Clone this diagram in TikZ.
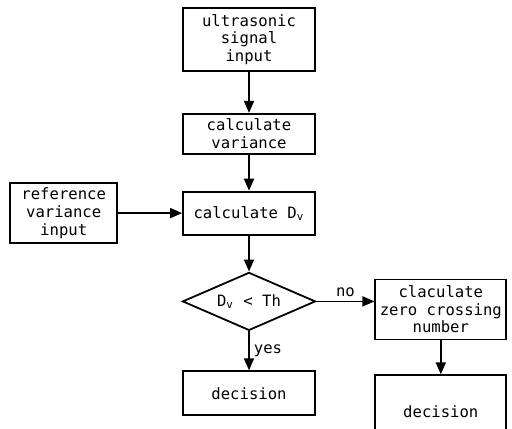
\documentclass[tikz,border=0pt]{standalone}
\usepackage{fontspec}
\newfontfamily\plotfont{DejaVu Sans Mono}
\usepackage{tikz}
\usetikzlibrary{shapes.geometric, arrows.meta, positioning}

\begin{document}
\begin{tikzpicture}[
        x=0.5pt, y=-0.5pt,
        box/.style={rectangle, draw=black, line width=0.9pt, minimum width=66pt, align=center, fill=white, inner sep=2pt, font=\plotfont\fontsize{7.8}{8.8}\selectfont},
        test/.style={diamond, draw=black, line width=0.9pt, aspect=2.3, minimum width=66.5pt, minimum height=29pt, inner sep=0pt, align=center, font=\plotfont\fontsize{7.8}{8.8}\selectfont},
        arrow/.style={-{Triangle[length=6pt,width=5pt]}, line width=0.9pt},
        lbl/.style={font=\plotfont\fontsize{7.8}{8.8}\selectfont, inner sep=2pt}
    ]
    \useasboundingbox (0,0) rectangle (512,428);

    % Nodes
    \node[box, minimum height=31.5pt] (signal) at (249,39.5) {ultrasonic\\signal\\input};

    \node[box, minimum height=20pt, below=20.5pt of signal] (variance) {calculate\\variance};

    \node[box, minimum height=21.5pt, below=18pt of variance] (dv) {calculate D\textsubscript{v}};

    \node[box, minimum width=53.5pt, minimum height=30pt, left=32pt of dv] (refvar) {reference\\variance\\input};

    \node[test, below=18pt of dv] (thresh) {D\textsubscript{v} < Th};

    \node[box, minimum height=22pt, below=19.5pt of thresh] (decyes) {decision};

    \node[box, minimum width=65.5pt, minimum height=30pt, right=29pt of thresh, yshift=-4pt] (zerox) {claculate\\zero crossing\\number};

    \node[box, minimum width=65.5pt, minimum height=36pt, below=17pt of zerox] (decno) {decision};

    % Arrows
    \draw[arrow] (signal) -- (variance);
    \draw[arrow] (variance) -- (dv);
    \draw[arrow] (refvar) -- (dv);
    \draw[arrow] (dv) -- (thresh);
    \draw[arrow] (thresh) -- node[lbl, right] {yes} (decyes);
    \draw[arrow] (thresh.east) -- node[lbl, above] {no} (thresh.east -| zerox.west);
    \draw[arrow] (zerox) -- (decno);

\end{tikzpicture}
\end{document}
